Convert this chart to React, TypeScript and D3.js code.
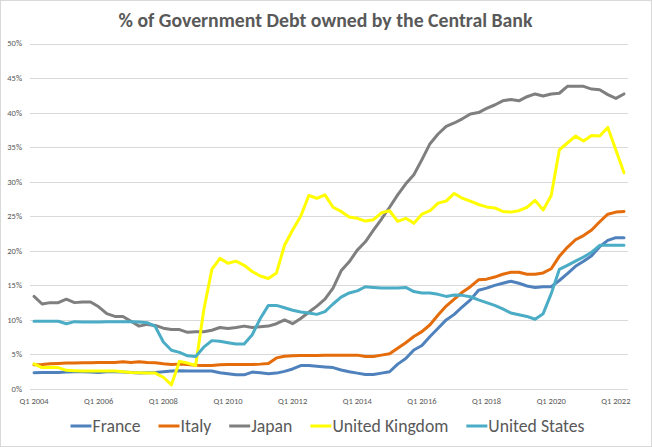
import React, {useEffect, useRef} from "react";
import * as d3 from "d3";

const title = "% of Government Debt owned by the Central Bank";

// Q1 2004 .. Q2 2022, one value per quarter (% of govt debt)
const france = [
	2.35, 2.4, 2.4, 2.4, 2.45, 2.5, 2.5, 2.45, 2.4, 2.5, 2.5, 2.45, 2.4, 2.3, 2.35, 2.4,
	2.5, 2.6, 2.65, 2.6, 2.6, 2.6, 2.6, 2.35, 2.2, 2.05, 2.05, 2.45, 2.35, 2.2, 2.3, 2.55,
	2.9, 3.4, 3.4, 3.3, 3.2, 3.1, 2.75, 2.5, 2.3, 2.1, 2.1, 2.3, 2.5, 3.6, 4.4, 5.65,
	6.3, 7.6, 8.8, 10.0, 10.8, 11.9, 12.9, 14.3, 14.6, 15.0, 15.3, 15.6, 15.3, 14.9, 14.7, 14.8,
	14.8, 15.7, 16.7, 17.75, 18.5, 19.3, 20.6, 21.5, 21.9, 21.9,
];
const italy = [
	3.5, 3.55, 3.65, 3.7, 3.75, 3.75, 3.8, 3.8, 3.85, 3.85, 3.85, 3.95, 3.85, 3.95, 3.85, 3.8,
	3.65, 3.55, 3.6, 3.55, 3.45, 3.4, 3.4, 3.5, 3.55, 3.55, 3.55, 3.55, 3.6, 3.7, 4.5, 4.75,
	4.8, 4.85, 4.85, 4.85, 4.9, 4.9, 4.9, 4.9, 4.9, 4.7, 4.7, 4.9, 5.1, 5.9, 6.7, 7.6,
	8.3, 9.3, 10.7, 12.0, 13.0, 14.0, 14.8, 15.8, 15.9, 16.2, 16.6, 16.9, 16.9, 16.6, 16.6, 16.8,
	17.4, 19.2, 20.5, 21.6, 22.2, 23.0, 24.2, 25.3, 25.6, 25.7,
];
const japan = [
	13.4, 12.3, 12.5, 12.5, 13.0, 12.5, 12.6, 12.6, 11.9, 10.9, 10.5, 10.5, 9.8, 9.1, 9.35, 9.2,
	8.8, 8.6, 8.6, 8.2, 8.3, 8.3, 8.5, 8.9, 8.75, 8.9, 9.1, 8.9, 9.0, 9.1, 9.45, 10.0,
	9.45, 10.2, 11.1, 12.0, 13.0, 14.6, 17.1, 18.4, 20.1, 21.3, 23.0, 24.6, 26.3, 28.1, 29.7, 31.0,
	33.2, 35.5, 36.9, 38.0, 38.5, 39.1, 39.8, 40.0, 40.6, 41.1, 41.7, 41.9, 41.7, 42.3, 42.7, 42.4,
	42.7, 42.8, 43.8, 43.8, 43.8, 43.4, 43.3, 42.6, 42.05, 42.7,
];
const unitedKingdom = [
	3.65, 3.1, 3.15, 3.1, 2.7, 2.65, 2.6, 2.6, 2.6, 2.6, 2.6, 2.5, 2.4, 2.35, 2.3, 2.3,
	1.7, 0.6, 4.0, 3.75, 3.4, 11.4, 17.3, 18.9, 18.2, 18.5, 17.9, 17.0, 16.35, 16.0, 16.8, 20.8,
	23.0, 25.0, 28.0, 27.6, 28.1, 26.3, 25.7, 24.9, 24.7, 24.3, 24.5, 25.5, 25.8, 24.25, 24.7, 24.0,
	25.3, 25.8, 26.9, 27.2, 28.3, 27.6, 27.2, 26.7, 26.35, 26.2, 25.7, 25.6, 25.8, 26.3, 27.3, 25.9,
	28.0, 34.6, 35.6, 36.6, 35.9, 36.7, 36.6, 37.85, 34.6, 31.3,
];
const unitedStates = [
	9.8, 9.8, 9.8, 9.8, 9.45, 9.75, 9.7, 9.7, 9.7, 9.75, 9.75, 9.75, 9.75, 9.7, 9.6, 9.05,
	6.8, 5.6, 5.3, 4.8, 4.7, 6.05, 7.0, 6.9, 6.7, 6.5, 6.5, 7.85, 10.2, 12.1, 12.1, 11.75,
	11.4, 11.15, 11.0, 10.8, 11.2, 12.3, 13.3, 13.9, 14.2, 14.8, 14.7, 14.6, 14.6, 14.6, 14.7, 14.1,
	13.9, 13.9, 13.7, 13.4, 13.6, 13.55, 13.35, 12.9, 12.5, 12.1, 11.6, 11.0, 10.75, 10.5, 10.1, 10.9,
	13.8, 17.3, 17.9, 18.5, 19.1, 19.8, 20.8, 20.8, 20.8, 20.8,
];

const seriesNames = ["France", "Italy", "Japan", "United Kingdom", "United States"];
const seriesColors = ["#4F81BD", "#E46C0A", "#7F7F7F", "#FFFF00", "#4BACC6"];
const seriesValues = [france, italy, japan, unitedKingdom, unitedStates];

const tickLabels = ["Q1 2004", "Q1 2006", "Q1 2008", "Q1 2010", "Q1 2012", "Q1 2014", "Q1 2016", "Q1 2018", "Q1 2020", "Q1 2022"];
const yTicks = [0, 5, 10, 15, 20, 25, 30, 35, 40, 45, 50];

// quarter labels for the category axis
const categories: string[] = [];
for (let i = 0; i < france.length; i++) {
	categories.push(`Q${(i % 4) + 1} ${2004 + Math.floor(i / 4)}`);
}

const W = 652;
const H = 447;
const FONT = "Calibri, Carlito, Roboto, sans-serif";

const App: React.FC = () => {
	const svgRef = useRef<SVGSVGElement>(null);

	useEffect(() => {
		const svg = d3.select(svgRef.current);
		svg.selectAll("*").remove();

		const plot = {left: 30, right: 628, top: 43.5, bottom: 389};

		const x = d3.scaleBand<string>().domain(categories).range([plot.left, plot.right]).padding(0);
		const xc = (c: string) => (x(c) as number) + x.bandwidth() / 2;
		const y = d3.scaleLinear().domain([0, 50]).range([plot.bottom, plot.top]);

		// chart border
		svg.append("rect")
			.attr("x", 0.5)
			.attr("y", 0.5)
			.attr("width", W - 1)
			.attr("height", H - 1)
			.attr("fill", "#fff")
			.attr("stroke", "#D9D9D9");

		// title
		svg.append("text")
			.attr("x", 325.5)
			.attr("y", 26.5)
			.attr("text-anchor", "middle")
			.attr("font-family", FONT)
			.attr("font-weight", "bold")
			.attr("font-size", 19.8)
			.attr("fill", "#595959")
			.text(title);

		// gridlines
		svg.append("g")
			.selectAll("line")
			.data(yTicks)
			.enter()
			.append("line")
			.attr("x1", plot.left)
			.attr("x2", plot.right)
			.attr("y1", (d) => Math.round(y(d)) + 0.5)
			.attr("y2", (d) => Math.round(y(d)) + 0.5)
			.attr("stroke", "#D9D9D9")
			.attr("stroke-width", 1);

		// y labels
		svg.append("g")
			.selectAll("text")
			.data(yTicks)
			.enter()
			.append("text")
			.attr("x", 22)
			.attr("y", (d) => y(d))
			.attr("dy", "0.35em")
			.attr("text-anchor", "end")
			.attr("font-family", FONT)
			.attr("font-size", 8.5)
			.attr("fill", "#595959")
			.text((d) => `${d}%`);

		// x labels
		svg.append("g")
			.selectAll("text")
			.data(tickLabels)
			.enter()
			.append("text")
			.attr("x", (d) => xc(d))
			.attr("y", 404)
			.attr("text-anchor", "middle")
			.attr("font-family", FONT)
			.attr("font-size", 8.5)
			.attr("fill", "#595959")
			.text((d) => d);

		// lines
		const line = d3
			.line<number>()
			.x((_, i) => xc(categories[i]))
			.y((d) => y(d));

		seriesValues.forEach((vals, k) => {
			svg.append("path")
				.datum(vals)
				.attr("fill", "none")
				.attr("stroke", seriesColors[k])
				.attr("stroke-width", 3)
				.attr("stroke-linejoin", "round")
				.attr("stroke-linecap", "round")
				.attr("d", line);
		});

		// legend
		const lg = svg.append("g");
		const items = seriesNames.map((name, k) => {
			const g = lg.append("g");
			g.append("line")
				.attr("x1", 0)
				.attr("x2", 21)
				.attr("y1", 426)
				.attr("y2", 426)
				.attr("stroke", seriesColors[k])
				.attr("stroke-width", 3);
			const t = g.append("text")
				.attr("x", 22)
				.attr("y", 432)
				.attr("font-family", FONT)
				.attr("font-size", 17.7)
				.attr("fill", "#595959")
				.text(name);
			const w = (t.node() as SVGTextElement).getComputedTextLength();
			return {g, w: 22 + w};
		});
		const gap = 18;
		const total = d3.sum(items, (d) => d.w) + gap * (items.length - 1);
		let cx = 327.5 - total / 2;
		items.forEach((it) => {
			it.g.attr("transform", `translate(${cx},0)`);
			cx += it.w + gap;
		});
	}, []);

	return (
		<svg
			ref={svgRef}
			width={W}
			height={H}
			style={{position: "absolute", left: 0, top: 0, background: "#fff"}}
		/>
	);
};

export default App;
